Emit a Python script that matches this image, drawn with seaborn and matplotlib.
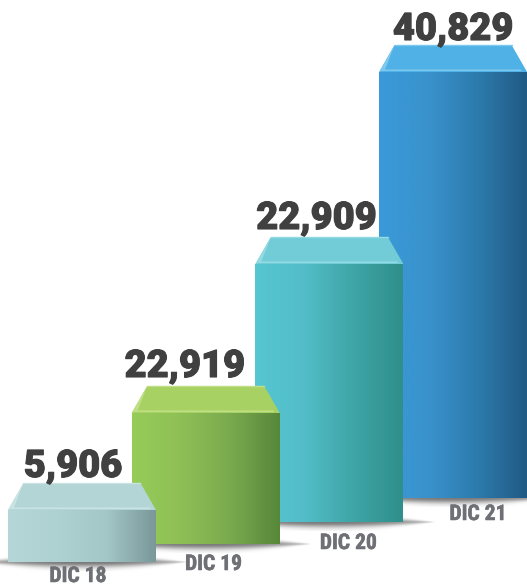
import numpy as np
import matplotlib
matplotlib.use('Agg')
import matplotlib.pyplot as plt
import matplotlib.patheffects as pe
from matplotlib.colors import LinearSegmentedColormap
from matplotlib.patches import Polygon
import seaborn as sns

categories = ['DIC 18', 'DIC 19', 'DIC 20', 'DIC 21']
value_labels = ['5,906', '22,919', '22,909', '40,829']
# drawn size of the bars (the artwork is not to scale)
bar_height = [52, 131, 258, 426]
bar_base = [24, 42, 64, 88]

front_colors = [
    ['#b6d7d7', '#aed1d1', '#a3c6c6', '#7a9899'],
    ['#96cc58', '#8ebf56', '#7aaa4e', '#57873a'],
    ['#56c6d2', '#52bdc8', '#3fa5a6', '#2f8f8b'],
    ['#3a9ad9', '#3a92cc', '#2c7bad', '#215a84'],
]
top_colors = ['#b3d5d5', '#a8d163', '#72ccd7', '#4fb1e5']
edge_colors = ['#c9e3e3', '#bfdf85', '#93dbe3', '#7cc8ee']

# pixel offsets of the texts from the bar centre / bar edge
value_dx = [-9, -21, -13, 0]
value_dy = [6, 9, 8, 5]
cat_dx = [-4, 8, 19, 25]
cat_dy = [-14, -20, -21, -16]

PX_PER_CAT = 123.7
DEPTH = 27
INSET = 15.5 / PX_PER_CAT
SLIVER = 6 / PX_PER_CAT

sns.set_theme(style='white')
plt.rcParams['font.family'] = ['Roboto', 'DejaVu Sans']

fig = plt.figure(figsize=(5.27, 5.86), dpi=100)
ax = fig.add_axes([0, 0, 1, 1])

sns.barplot(x=categories, y=bar_height, bottom=bar_base, width=148 / PX_PER_CAT,
            color=top_colors[0], saturation=1, ax=ax, linewidth=0)

xlim = (-82 / PX_PER_CAT, (527 - 82) / PX_PER_CAT)

for i, bar in enumerate(ax.patches):
    z = 10 - 2 * i
    x0, w = bar.get_x(), bar.get_width()
    y0, h = bar.get_y(), bar.get_height()
    bar.set_zorder(z)

    # front face gradient
    cmap = LinearSegmentedColormap.from_list('front', front_colors[i])
    im = ax.imshow(np.linspace(0, 1, 256)[None, :], cmap=cmap, aspect='auto',
                   extent=(x0, x0 + w, y0, y0 + h), zorder=z + 0.1)
    im.set_clip_path(bar)

    # soft shadow under the bar
    xs = np.linspace(-1.45, 1.45, 300)
    ys = np.linspace(-9, 9, 60)
    gx, gy = np.meshgrid(xs, ys)
    lens = np.clip(1 - (gx / 1.45) ** 2, 0.001, None)
    alpha = 0.75 * np.exp(-(gy / (5.5 * lens)) ** 2) * lens ** 0.5
    rgba = np.zeros(gx.shape + (4,))
    rgba[..., :3] = 0.3
    rgba[..., 3] = alpha
    cx = x0 + w / 2
    ax.imshow(rgba, aspect='auto', zorder=z - 0.5,
              extent=(cx - 1.45 * w / 2, cx + 1.45 * w / 2, y0 - 9, y0 + 9))

    # top face of the box, with the light sliver on the left and front edge
    top = y0 + h
    ax.add_patch(Polygon([(x0, top), (x0 + w, top), (x0 + w - INSET, top + DEPTH), (x0 + INSET, top + DEPTH)],
                         closed=True, fc=top_colors[i], ec='none', zorder=z + 0.2))
    ax.plot([x0 + INSET, x0 + w - INSET], [top + DEPTH, top + DEPTH], color=edge_colors[i], lw=1, zorder=z + 0.3)
    ax.add_patch(Polygon([(x0, top), (x0 + INSET, top + DEPTH), (x0 + SLIVER, top + 2.5), (x0 + w - SLIVER, top + 2.5), (x0 + w - SLIVER, top + 1), (x0 + 0.02, top + 1)],
                         closed=True, fc=edge_colors[i], ec='none', zorder=z + 0.25))

    ax.annotate(value_labels[i], (i, top + DEPTH), xytext=(value_dx[i], value_dy[i]),
                textcoords='offset pixels', ha='center', va='baseline', fontsize=27.4,
                fontweight=900, color='#404040', zorder=30,
                path_effects=[pe.withStroke(linewidth=0.8, foreground='#404040')])
    ax.annotate(categories[i], (i, y0), xytext=(cat_dx[i], cat_dy[i]),
                textcoords='offset pixels', ha='center', va='center', fontsize=15.5,
                fontweight='bold', color='#6f7075', zorder=30,
                family=['Roboto Condensed', 'DejaVu Sans'],
                path_effects=[pe.withStroke(linewidth=0.4, foreground='#6f7075')])

ax.set_xlim(xlim)
ax.set_ylim(0, 586)
ax.axis('off')

fig.savefig('out.png', dpi=100)
